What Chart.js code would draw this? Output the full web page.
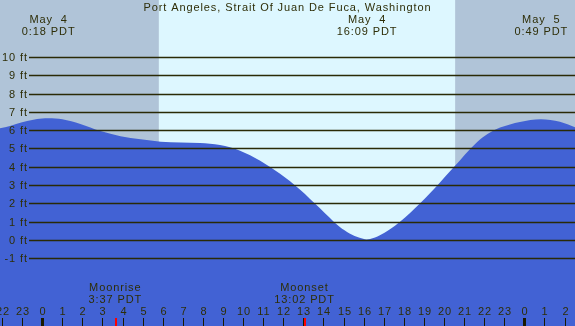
<!DOCTYPE html>
<html>
<head>
<meta charset="utf-8">
<script src="https://cdn.jsdelivr.net/npm/chart.js@4/dist/chart.umd.min.js"></script>
<style>
html,body{margin:0;padding:0;background:#ffffff;}
#wrap{width:575px;height:326px;}
canvas{display:block;}
</style>
</head>
<body>
<div id="wrap"><canvas id="c" width="575" height="326"></canvas></div>
<script>
// ---- data (hours relative to May 4 00:00 PDT, heights in feet) ----
const hours   = [-2.1, -1.6, -1.0, -0.5, 0, 0.3, 1, 1.9, 2.9, 3.9, 4.9, 5.9, 6.9, 7.85, 8.85, 9.85, 10.85, 11.84, 12.84, 13.8, 14.8, 15.3, 15.8, 16.15, 16.32, 16.81, 17.31, 17.81, 18.31, 18.8, 19.3, 19.8, 20.3, 20.8, 21.29, 21.79, 22.29, 22.79, 23.78, 24.82, 25.77, 26.52];
const heights = [6.10, 6.23, 6.43, 6.56, 6.63, 6.65, 6.60, 6.34, 5.95, 5.67, 5.50, 5.37, 5.33, 5.30, 5.19, 4.88, 4.33, 3.62, 2.75, 1.76, 0.72, 0.36, 0.12, 0.03, 0.05, 0.26, 0.58, 0.99, 1.47, 1.99, 2.55, 3.14, 3.75, 4.36, 4.95, 5.49, 5.87, 6.14, 6.45, 6.60, 6.46, 6.16];
const yTicks = [-1, 0, 1, 2, 3, 4, 5, 6, 7, 8, 9, 10];
const tickHours = [-2, -1, 0, 1, 2, 3, 4, 5, 6, 7, 8, 9, 10, 11, 12, 13, 14, 15, 16, 17, 18, 19, 20, 21, 22, 23, 24, 25, 26];
const sunrise = 5.81;   // 5:49
const sunset = 20.55;   // 20:33
const extremaHours = [0.3, 16.15, 24.82];
const extremaDay = ["May  4", "May  4", "May  5"];
const extremaTime = ["0:18 PDT", "16:09 PDT", "0:49 PDT"];
const moonHours = [3.617, 13.033];
const moonNames = ["Moonrise", "Moonset"];
const moonTimes = ["3:37 PDT", "13:02 PDT"];
const title = "Port Angeles, Strait Of Juan De Fuca, Washington";

const X_MIN = -2.1, X_MAX = 26.52, Y_MIN = -4.70, Y_MAX = 13.11;
const FONT = '11px "Liberation Sans", Arial, sans-serif';
const SPACING = 0.9;
const TXT = '#2e2e08';

function drawText(ctx, str, x, y, align) {
  ctx.letterSpacing = SPACING + 'px';
  ctx.textAlign = 'left';
  const w = ctx.measureText(str).width - SPACING;
  let x0 = x;
  if (align === 'center') x0 = x - w / 2;
  else if (align === 'right') x0 = x - w;
  ctx.fillText(str, x0, y);
}

const bgPlugin = {
  id: 'bg',
  beforeDatasetsDraw(chart) {
    const {ctx, chartArea: a, scales: {x}} = chart;
    const xr = x.getPixelForValue(sunrise), xs = x.getPixelForValue(sunset);
    ctx.save();
    ctx.fillStyle = '#b0c4d8';
    ctx.fillRect(a.left, a.top, xr - a.left, a.bottom - a.top);
    ctx.fillRect(xs, a.top, a.right - xs, a.bottom - a.top);
    ctx.fillStyle = '#ddf7ff';
    ctx.fillRect(xr, a.top, xs - xr, a.bottom - a.top);
    ctx.restore();
  }
};

const overlayPlugin = {
  id: 'overlay',
  afterDatasetsDraw(chart) {
    const {ctx, chartArea: a, scales: {x, y}} = chart;
    ctx.save();
    ctx.font = FONT;
    ctx.textBaseline = 'middle';
    yTicks.forEach(v => {
      const py = Math.round(y.getPixelForValue(v)) + 0.5;
      ctx.strokeStyle = '#2a2a06';
      ctx.lineWidth = 1.4;
      ctx.beginPath();
      ctx.moveTo(29, py);
      ctx.lineTo(a.right, py);
      ctx.stroke();
      ctx.fillStyle = TXT;
      drawText(ctx, v + ' ft', 27, py, 'right');
    });
    ctx.fillStyle = TXT;
    drawText(ctx, title, 287, 8, 'center');
    extremaHours.forEach((h, i) => {
      const px = x.getPixelForValue(h);
      drawText(ctx, extremaDay[i], px, 19.5, 'center');
      drawText(ctx, extremaTime[i], px, 31.5, 'center');
    });
    moonHours.forEach((h, i) => {
      const px = x.getPixelForValue(h);
      drawText(ctx, moonNames[i], px, 287.5, 'center');
      drawText(ctx, moonTimes[i], px, 299.5, 'center');
    });
    tickHours.forEach(h => {
      const px = Math.round(x.getPixelForValue(h));
      const lab = ((h % 24) + 24) % 24;
      ctx.fillStyle = TXT;
      drawText(ctx, String(lab), px + 0.5, 312, 'center');
      ctx.fillStyle = '#1a1a00';
      if (lab === 0) {
        ctx.fillRect(px - 1, 318, 3, 8);
      } else {
        ctx.fillRect(px, 318, 1, 8);
      }
    });
    moonHours.forEach(h => {
      const px = Math.round(x.getPixelForValue(h));
      ctx.fillStyle = '#ff0000';
      ctx.fillRect(px, 318, 2, 8);
    });
    ctx.restore();
  }
};

new Chart(document.getElementById('c'), {
  type: 'line',
  data: {
    datasets: [{
      data: hours.map((h, i) => ({x: h, y: heights[i]})),
      borderWidth: 0,
      borderColor: 'rgba(0,0,0,0)',
      backgroundColor: '#4262d4',
      fill: 'start',
      pointRadius: 0,
      cubicInterpolationMode: 'monotone'
    }]
  },
  options: {
    responsive: false,
    animation: false,
    layout: {padding: 0},
    plugins: {legend: {display: false}, tooltip: {enabled: false}},
    scales: {
      x: {type: 'linear', min: X_MIN, max: X_MAX, display: false},
      y: {type: 'linear', min: Y_MIN, max: Y_MAX, display: false}
    }
  },
  plugins: [bgPlugin, overlayPlugin]
});
</script>
</body>
</html>
